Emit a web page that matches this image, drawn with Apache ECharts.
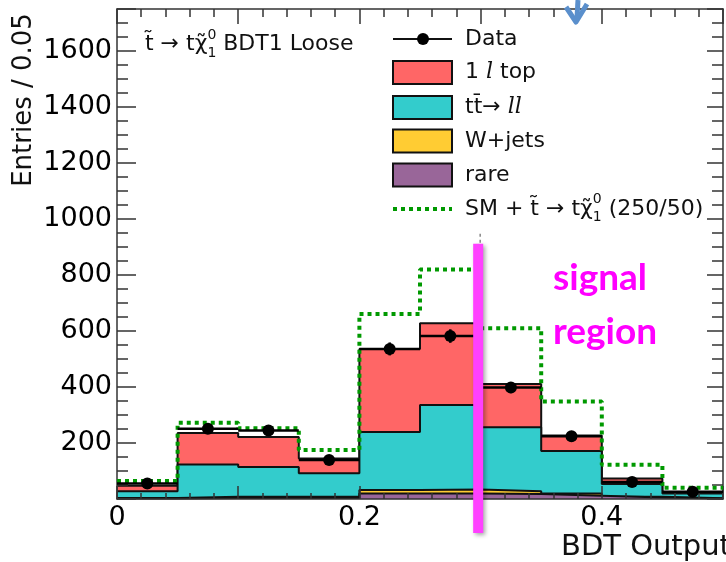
<!DOCTYPE html>
<html>
<head>
<meta charset="utf-8">
<script src="https://cdn.jsdelivr.net/npm/echarts@6/dist/echarts.min.js"></script>
<style>
  html, body { margin: 0; padding: 0; background: #fff; }
  #chart { width: 726px; height: 562px; }
</style>
</head>
<body>
<div id="chart"></div>
<script>
// ===== Data =====
const binEdges     = [0, 0.05, 0.1, 0.15, 0.2, 0.25, 0.3, 0.35, 0.4, 0.45, 0.5];
const rare         = [2, 4, 4, 4, 20, 20, 18, 12, 5, 2];
const wjets        = [2, 4, 4, 4, 12, 14, 10, 8, 3, 1];
const ttll         = [24, 115, 106, 84, 207, 302, 228, 151, 46, 17];
const top1l        = [19, 113, 107, 53, 297, 292, 155, 56, 19, 4];
const dataCounts   = [55, 251, 245, 139, 536, 582, 398, 224, 61, 26];
const smPlusSignal = [64, 272, 253, 175, 661, 820, 610, 348, 122, 40];
const xTickLabels  = ['0', '0.2', '0.4'];
const yTickLabels  = ['200', '400', '600', '800', '1000', '1200', '1400', '1600'];
const CUT = 0.298;        // magenta signal-region line
const CUT_TOP = 912;

// ===== Style =====
const FONT = '"DejaVu Sans"';
const INK = '#111';
const FRAME = '#333';
const COLORS = { top1l: '#FF6666', ttll: '#33CCCC', wjets: '#FFCC33', rare: '#996699', sm: '#009900' };

// cumulative stacks, drawn largest first (like THStack)
const cumRare  = rare.slice();
const cumWjets = cumRare.map((v, i) => v + wjets[i]);
const cumTtll  = cumWjets.map((v, i) => v + ttll[i]);
const cumTop   = cumTtll.map((v, i) => v + top1l[i]);

function stepPoints(vals) {
  const pts = vals.map((v, i) => [binEdges[i], v]);
  pts.push([binEdges[vals.length], vals[vals.length - 1]]);
  return pts;
}

function stackSeries(name, vals, color, z) {
  return {
    name, type: 'line', step: 'end', data: stepPoints(vals), z,
    symbol: 'none', showSymbol: false, silent: true,
    lineStyle: { color: INK, width: 2 },
    areaStyle: { color, opacity: 1 }
  };
}

function fmtNum(v) { return String(parseFloat(v.toFixed(3))); }

const tickLine = { color: FRAME, width: 1.5 };

function xAxisDef(position, major, minor, labels) {
  return {
    type: 'value', min: 0, max: 0.5, interval: 0.1, position, z: 5,
    axisLine: { show: true, onZero: false, lineStyle: { color: FRAME, width: 1.5 } },
    axisTick: { show: true, inside: true, length: major, lineStyle: tickLine },
    minorTick: { show: true, splitNumber: 5, length: minor, lineStyle: tickLine },
    splitLine: { show: false },
    axisLabel: labels ? {
      show: true, margin: 5, fontFamily: FONT, fontSize: 27, color: '#000',
      showMinLabel: true, showMaxLabel: true,
      formatter: v => xTickLabels.includes(fmtNum(v)) ? fmtNum(v) : ''
    } : { show: false }
  };
}

function yAxisDef(position, interval, len, line, labels) {
  return {
    type: 'value', min: 0, max: 1750, interval, position, offset: 0, z: 5,
    axisLine: { show: line, onZero: false, lineStyle: { color: FRAME, width: 1.5 } },
    axisTick: { show: true, inside: true, length: len, lineStyle: tickLine },
    splitLine: { show: false },
    axisLabel: labels ? {
      show: true, margin: 5, fontFamily: FONT, fontSize: 27, color: '#000',
      formatter: v => yTickLabels.includes(fmtNum(v)) ? fmtNum(v) : ''
    } : { show: false }
  };
}

// ===== Text helpers =====
const measureCtx = document.createElement('canvas').getContext('2d');
function textWidth(str, font) { measureCtx.font = font; return measureCtx.measureText(str).width; }

function textEl(x, y, text, font, extra) {
  return Object.assign({
    type: 'text', x, y, z: 50, silent: true,
    style: { text, font, fill: INK, align: 'left', verticalAlign: 'middle', textAlign: 'left', textVerticalAlign: 'middle' }
  }, extra || {});
}

// a row of text pieces; {sup, sub} pieces are stacked like ROOT's #chi^{0}_{1}
function textRow(x, y, parts, size) {
  const els = [];
  let cx = x;
  parts.forEach(p => {
    if (p.sup != null) {
      const s = Math.round(size * 0.62);
      const f = s + 'px ' + FONT;
      els.push(textEl(cx, y - size * 0.42, p.sup, f));
      els.push(textEl(cx, y + size * 0.4, p.sub, f));
      cx += Math.max(textWidth(p.sup, f), textWidth(p.sub, f));
    } else {
      const f = (p.italic ? 'italic ' : '') + size + 'px ' + (p.serif ? '"DejaVu Serif"' : FONT);
      els.push(textEl(cx, y, p.t, f));
      cx += textWidth(p.t, f);
    }
  });
  return els;
}

// ===== Chart =====
const chart = echarts.init(document.getElementById('chart'), null, { renderer: 'canvas' });

chart.setOption({
  animation: false,
  backgroundColor: '#fff',
  grid: { left: 117, top: 9, width: 612, height: 490, containLabel: false },
  xAxis: [
    xAxisDef('bottom', 13, 6, true),
    xAxisDef('top', 15, 8, false)
  ],
  yAxis: [
    yAxisDef('left', 200, 19, true, true),
    yAxisDef('left', 50, 11, false, false),
    yAxisDef('right', 200, 16, true, false),
    yAxisDef('right', 50, 11, false, false)
  ],
  series: [
    stackSeries('1l top', cumTop, COLORS.top1l, 2),
    stackSeries('tt->ll', cumTtll, COLORS.ttll, 3),
    stackSeries('W+jets', cumWjets, COLORS.wjets, 4),
    stackSeries('rare', cumRare, COLORS.rare, 4.5),
    {
      name: 'SM + signal', type: 'line', step: 'end', data: stepPoints(smPlusSignal), z: 8,
      symbol: 'none', showSymbol: false, silent: true,
      lineStyle: { color: COLORS.sm, width: 4, type: [4, 4], cap: 'butt' }
    },
    {
      name: 'Data', type: 'custom', z: 10, silent: true,
      data: dataCounts.map((v, i) => [binEdges[i], binEdges[i + 1], v]),
      encode: { x: [0, 1], y: 2 },
      renderItem: (params, api) => {
        const lo = api.value(0), hi = api.value(1), v = api.value(2);
        const mid = (lo + hi) / 2, err = Math.sqrt(v);
        const pL = api.coord([lo, v]), pR = api.coord([hi, v]);
        const pT = api.coord([mid, v + err]), pB = api.coord([mid, v - err]);
        const style = { stroke: '#000', lineWidth: 2.5 };
        return {
          type: 'group', children: [
            { type: 'line', shape: { x1: pL[0], y1: pL[1], x2: pR[0], y2: pR[1] }, style },
            { type: 'line', shape: { x1: pT[0], y1: pT[1], x2: pB[0], y2: pB[1] }, style },
            { type: 'circle', shape: { cx: (pL[0] + pR[0]) / 2, cy: pL[1], r: 6 }, style: { fill: '#000' } }
          ]
        };
      }
    }
  ]
});

// ===== Overlays: legend, labels, annotations =====
const cutX = chart.convertToPixel({ xAxisIndex: 0 }, CUT);
const cutTop = chart.convertToPixel({ yAxisIndex: 0 }, CUT_TOP);
const zeroY = chart.convertToPixel({ yAxisIndex: 0 }, 0);

const LEG_X = 393, LEG_W = 59, LEG_TX = 465, LEG_SIZE = 22;
const legendBoxes = [
  { y: 72.5, color: COLORS.top1l, parts: [{ t: '1' }, { t: ' l', italic: true, serif: true }, { t: ' top' }] },
  { y: 107.5, color: COLORS.ttll, parts: [{ t: 'tt\u0304\u2192 ' }, { t: 'll', italic: true, serif: true }] },
  { y: 141, color: COLORS.wjets, parts: [{ t: 'W+jets' }] },
  { y: 175, color: COLORS.rare, parts: [{ t: 'rare' }] }
];

const graphics = [];

// y axis title
graphics.push(textEl(24, 100, 'Entries / 0.05', '26px ' + FONT, {
  rotation: Math.PI / 2,
  style: { text: 'Entries / 0.05', font: '26px ' + FONT, fill: INK, align: 'center', verticalAlign: 'middle', textAlign: 'center', textVerticalAlign: 'middle' }
}));
// x axis title (runs off the right edge, as in the cropped original)
graphics.push(textEl(561, 547, 'BDT Output', '29px ' + FONT));

// in-plot title
graphics.push(...textRow(145, 44.5, [{ t: 't\u0303 \u2192 t\u03C7\u0303' }, { sup: '0', sub: '1' }, { t: ' BDT1 Loose' }], 22));

// legend: data
graphics.push({ type: 'line', z: 50, silent: true, shape: { x1: LEG_X, y1: 39, x2: LEG_X + LEG_W, y2: 39 }, style: { stroke: INK, lineWidth: 2 } });
graphics.push({ type: 'circle', z: 50, silent: true, shape: { cx: LEG_X + 30, cy: 39, r: 6 }, style: { fill: '#000' } });
graphics.push(...textRow(LEG_TX, 39, [{ t: 'Data' }], LEG_SIZE));
// legend: stack boxes
legendBoxes.forEach(b => {
  graphics.push({ type: 'rect', z: 50, silent: true, shape: { x: LEG_X, y: b.y - 11.5, width: LEG_W, height: 23 }, style: { fill: b.color, stroke: INK, lineWidth: 2 } });
  graphics.push(...textRow(LEG_TX, b.y, b.parts, LEG_SIZE));
});
// legend: SM + signal
graphics.push({ type: 'line', z: 50, silent: true, shape: { x1: LEG_X, y1: 209, x2: LEG_X + LEG_W, y2: 209 }, style: { stroke: COLORS.sm, lineWidth: 4, lineDash: [4, 4] } });
graphics.push(...textRow(LEG_TX, 209, [{ t: 'SM + t\u0303 \u2192 t\u03C7\u0303' }, { sup: '0', sub: '1' }, { t: ' (250/50)' }], LEG_SIZE));

// small gray dashed cut line above the magenta bar
graphics.push({ type: 'line', z: 60, silent: true, shape: { x1: cutX + 2, y1: cutTop - 10, x2: cutX + 2, y2: cutTop }, style: { stroke: '#888', lineWidth: 1.5, lineDash: [3, 3] } });
// magenta signal-region bar
graphics.push({
  type: 'rect', z: 70, silent: true,
  shape: { x: cutX - 5, y: cutTop, width: 10, height: zeroY + 34 - cutTop },
  style: { fill: '#FF40FF', shadowBlur: 4, shadowColor: 'rgba(0,0,0,0.35)', shadowOffsetX: 2, shadowOffsetY: 2 }
});
// signal region label
graphics.push(textEl(553, 278, 'signal', 'bold 37px Lato', { style: { text: 'signal', font: 'bold 37px Lato', fill: '#FF00FF', align: 'left', verticalAlign: 'middle', textAlign: 'left', textVerticalAlign: 'middle' } }));
graphics.push(textEl(553, 332, 'region', 'bold 37px Lato', { style: { text: 'region', font: 'bold 37px Lato', fill: '#FF00FF', align: 'left', verticalAlign: 'middle', textAlign: 'left', textVerticalAlign: 'middle' } }));

// blue arrow at the top
graphics.push({ type: 'polyline', z: 60, silent: true, shape: { points: [[566, 7], [576, 22], [587, 4]] }, style: { stroke: '#5A8FCC', lineWidth: 5, lineJoin: 'round', fill: null } });
graphics.push({ type: 'line', z: 60, silent: true, shape: { x1: 578, y1: 0, x2: 577, y2: 18 }, style: { stroke: '#5A8FCC', lineWidth: 5 } });

chart.setOption({ graphic: graphics });
</script>
</body>
</html>
